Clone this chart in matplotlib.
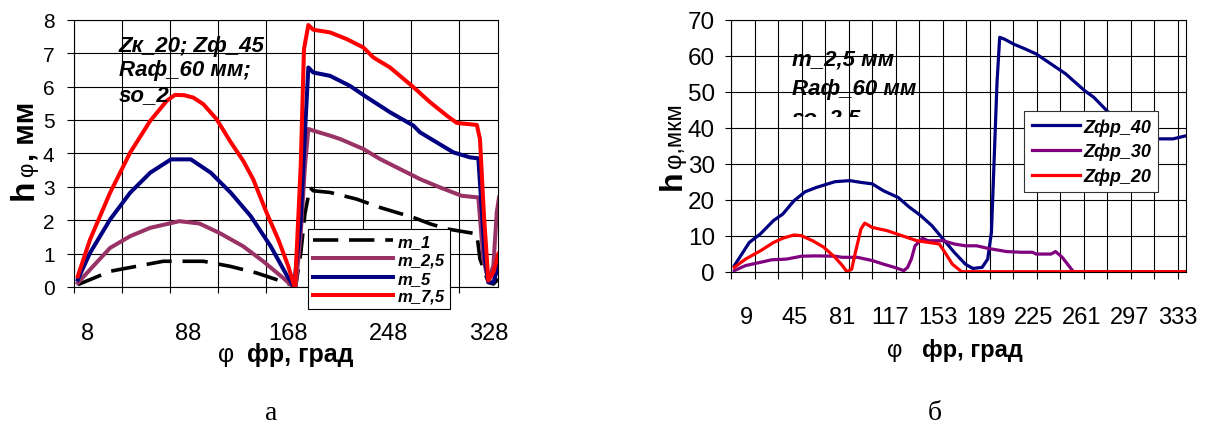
import numpy as np
import matplotlib
matplotlib.use("Agg")
import matplotlib.pyplot as plt
from matplotlib.transforms import Bbox, TransformedBbox

plt.rcParams['font.family'] = ['Liberation Sans', 'DejaVu Sans']

# ---- панель а: h(φ) для разных модулей ----
phi_m1 = [0, 9.8, 25.8, 46.9, 68.2, 100.3, 121.5, 142.8, 158.8, 170, 174, 178, 181.4, 185.4, 188,
          201.4, 222.7, 241.3, 254.6, 268, 281.3, 294.6, 310.5, 318.6, 321.1, 327.8, 331.8, 335.8]
h_m1 = [0.07, 0.22, 0.47, 0.62, 0.77, 0.77, 0.62, 0.42, 0.22, 0.07, 0.03, 1.0, 2.2, 2.98, 2.88,
        2.83, 2.63, 2.38, 2.23, 2.08, 1.89, 1.74, 1.64, 1.59, 0.84, 0.14, 0.09, 0.24]

phi_m25 = [0, 9.8, 25.8, 41.8, 57.8, 81.1, 97.1, 113, 132, 148, 164, 170, 174, 178, 181.4, 184.1,
           188, 201.4, 209.4, 228, 241.3, 254.6, 273.2, 289.2, 306.5, 319.8, 323.8, 327.8, 331.8,
           334.5, 336.3]
h_m25 = [0.12, 0.52, 1.17, 1.52, 1.77, 1.97, 1.9, 1.62, 1.22, 0.77, 0.27, 0.07, 0.02, 1.6, 3.63, 4.73,
         4.68, 4.53, 4.43, 4.13, 3.83, 3.58, 3.23, 2.98, 2.73, 2.68, 0.84, 0.19, 0.64, 2.23, 2.68]

phi_m5 = [0, 9.8, 25.8, 41.8, 57.8, 74.4, 90.3, 106.2, 122.2, 138.1, 154, 167.3, 172.6, 178, 181.4,
          184.1, 188, 201.4, 217.3, 230.7, 249.3, 268, 273.2, 286.5, 299.8, 313.1, 319.8, 325.1,
          327.8, 331.8, 335.8]
h_m5 = [0.22, 1.02, 2.02, 2.82, 3.42, 3.82, 3.82, 3.42, 2.82, 2.12, 1.22, 0.32, 0.0, 2.0, 4.63,
        6.57, 6.42, 6.32, 6.02, 5.68, 5.23, 4.83, 4.63, 4.33, 4.03, 3.88, 3.85, 0.84, 0.14, 0.14, 0.64]

phi_m75 = [0, 9.8, 25.8, 41.8, 57.8, 71, 77.6, 85, 92.2, 100.3, 110.9, 121.5, 132.2, 140.1, 150.8,
           160.1, 168.1, 173.4, 178, 180.6, 184.1, 188, 201.4, 214.7, 228, 236, 249.3, 268, 281.3,
           294.6, 302.6, 318.6, 321.1, 324.3, 327.8, 331.8, 335.8]
h_m75 = [0.32, 1.42, 2.82, 4.02, 4.97, 5.57, 5.75, 5.74, 5.67, 5.47, 5.02, 4.37, 3.77, 3.22, 2.22,
         1.42, 0.62, -0.05, 3.63, 7.12, 7.84, 7.7, 7.62, 7.42, 7.17, 6.87, 6.57, 5.98, 5.53,
         5.13, 4.91, 4.85, 4.43, 2.13, 0.19, 0.44, 0.99]

labels_a = ["m_1", "m_2,5", "m_5", "m_7,5"]
xticks_a = [8, 88, 168, 248, 328]

# ---- панель б: h(φ) для разных Zфр ----
phi_z40 = [0, 11.2, 19.6, 29.4, 36.4, 44.8, 53.2, 61.6, 75.6, 86.8, 95.2, 103.6, 112, 123.2, 131.6,
           140, 148.4, 156.8, 165.2, 173.6, 179.2, 186.2, 190.4, 193.2, 196, 197.4, 199.4, 203, 210,
           218.4, 226.8, 238, 249.2, 253.4, 263.2, 270.2, 280, 290, 300, 310, 319.8, 329.7, 339.9]
h_z40 = [1.67, 8.1, 10.5, 14.2, 16.0, 19.7, 22.2, 23.4, 25.0, 25.3, 24.8, 24.4, 22.5, 20.6, 17.9,
         15.6, 12.8, 9.1, 5.4, 2.1, 0.9, 1.2, 3.5, 10.9, 38.7, 52.6, 65.1, 64.6, 63.2,
         61.9, 60.5, 57.7, 54.9, 53.5, 50.3, 48.4, 44.7, 41.5, 38.8, 37.2, 36.9, 36.9, 37.8]

phi_z30 = [0, 8.4, 19.6, 28, 39.2, 50.4, 61.6, 75.6, 81.2, 92.4, 103.6, 112, 120.4, 127.4, 130.2, 133,
           135.8, 141.4, 145.6, 156.8, 165.2, 173.6, 182, 190.4, 204.4, 215.6, 224, 226.8, 238, 241.4,
           246.4, 254.8, 339]
h_z30 = [0.3, 1.7, 2.6, 3.3, 3.5, 4.3, 4.4, 4.3, 4.0, 4.0, 3.1, 2.1, 1.2, 0.3, 1.2, 3.5,
         7.2, 9.3, 8.6, 8.6, 7.7, 7.2, 7.2, 6.5, 5.6, 5.4, 5.4, 4.9, 4.9, 5.6,
         4.0, 0.0, 0.0]

phi_z20 = [0, 8.4, 19.6, 29.4, 36.4, 44.8, 50.4, 58.8, 67.2, 75.6, 81.2, 84.6, 88.2, 91, 95.2, 98,
           103.6, 114.8, 126, 137.2, 148.4, 154, 158.2, 163.8, 170.8, 339]
h_z20 = [1.2, 3.5, 5.8, 8.1, 9.3, 10.2, 10.0, 8.6, 6.8, 4.0, 1.7, 0.0, 0.7, 5.4, 11.9, 13.5,
         12.3, 11.4, 10.0, 8.6, 8.0, 7.7, 5.4, 2.1, 0.0, 0.0]

labels_b = ["Zфр_40", "Zфр_30", "Zфр_20"]
xticks_b = [9, 45, 81, 117, 153, 189, 225, 261, 297, 333]

W, H = 1207, 427
fig = plt.figure(figsize=(W / 100, H / 100), dpi=100)

def px_axes(x0, x1, ytop, ybot):
    return fig.add_axes([x0 / W, 1 - ybot / H, (x1 - x0) / W, (ybot - ytop) / H])

def chain(x, y, parts, vertical=False):
    # кусочки подписи подряд, координаты в пикселях от левого верхнего угла
    r = fig.canvas.get_renderer()
    for s, weight, size, gap in parts:
        t = fig.text(x / W, 1 - y / H, s, fontsize=size, fontweight=weight,
                     rotation=90 if vertical else 0, rotation_mode='anchor',
                     ha='left', va='baseline')
        bb = t.get_window_extent(r)
        if vertical:
            y -= bb.height + gap
        else:
            x += bb.width + gap

# ================= а =================
ax1 = px_axes(74, 498, 20.7, 288)
ax1.plot(phi_m1, h_m1, color='black', lw=2.6, dashes=(7, 3), label=labels_a[0])
ax1.plot(phi_m25, h_m25, color='#993366', lw=2.9, label=labels_a[1])
ax1.plot(phi_m5, h_m5, color='#000080', lw=2.9, label=labels_a[2])
ax1.plot(phi_m75, h_m75, color='#ff0000', lw=2.9, label=labels_a[3])

ax1.set_xlim(-3, 335.5)
ax1.set_ylim(0, 8)
ax1.set_yticks(range(0, 9))
ax1.set_xticks(xticks_a)
ax1.set_xticks(-3 + 38.4 * np.arange(9), minor=True)
ax1.tick_params(axis='x', which='major', length=0, pad=25, labelsize=17)
ax1.tick_params(axis='x', which='minor', length=4, width=0.8, direction='out')
ax1.tick_params(axis='y', length=5, width=0.8, pad=9, labelsize=15)
ax1.grid(True, which='minor', axis='x', color='black', lw=0.8)
ax1.grid(True, which='major', axis='y', color='black', lw=0.8)
ax1.set_axisbelow(True)
for sp in ax1.spines.values():
    sp.set_linewidth(0.8)

ax1.text(32.9, 7.55, "Zк_20; Zф_45\nRaф_60 мм;\nso_2", fontsize=16, fontweight='bold',
         fontstyle='italic', ha='left', va='top', linespacing=1.22)

leg1 = ax1.legend(loc='upper left', bbox_to_anchor=(0.552, 0.217), borderaxespad=0,
                  prop={'size': 12, 'weight': 'bold', 'style': 'italic'}, handlelength=4.8,
                  handletextpad=0.3, labelspacing=0.2, borderpad=0.3, fancybox=False,
                  framealpha=1, edgecolor='black')
leg1.get_frame().set_linewidth(0.8)

# ================= б =================
ax2 = px_axes(731, 1186, 20.7, 272.7)
ax2.plot(phi_z40, h_z40, color='#000080', lw=2.3, label=labels_b[0])
ax2.plot(phi_z30, h_z30, color='#800080', lw=2.3, label=labels_b[1])
ax2.plot(phi_z20, h_z20, color='#ff0000', lw=2.3, label=labels_b[2])

ax2.set_xlim(-2.5, 339.4)
ax2.set_ylim(0, 70)
ax2.set_yticks(range(0, 71, 10))
ax2.set_xticks(xticks_b)
ax2.set_xticks(-2.5 + 17.66 * np.arange(20), minor=True)
ax2.tick_params(axis='x', which='major', length=0, pad=25, labelsize=17)
ax2.tick_params(axis='x', which='minor', length=5, width=0.8, direction='out')
ax2.tick_params(axis='y', length=4.5, width=0.8, pad=7, labelsize=17.5)
ax2.grid(True, which='minor', axis='x', color='black', lw=0.8)
ax2.grid(True, which='major', axis='y', color='black', lw=0.8)
ax2.set_axisbelow(True)
for sp in ax2.spines.values():
    sp.set_linewidth(0.8)

ax2.text(43.5, 59.1, "m_2,5 мм", fontsize=16, fontweight='bold', fontstyle='italic',
         ha='left', va='center')
ax2.text(43.5, 51.0, "Raф_60 мм", fontsize=16, fontweight='bold', fontstyle='italic',
         ha='left', va='center')
# третья строка в оригинале срезана рамкой надписи
t3 = ax2.text(43.5, 42.6, "so_2,5", fontsize=16, fontweight='bold', fontstyle='italic',
              ha='left', va='center', clip_on=True)
t3.set_clip_box(TransformedBbox(Bbox([[-2.5, 43.1], [339.4, 70]]), ax2.transData))

leg2 = ax2.legend(loc='upper left', bbox_to_anchor=(0.645, 0.6377), borderaxespad=0,
                  prop={'size': 13, 'weight': 'bold', 'style': 'italic'}, handlelength=2.7,
                  handletextpad=0.15, labelspacing=0.4, borderpad=0.4, fancybox=False,
                  framealpha=1, edgecolor='#333333')
leg2.get_frame().set_linewidth(0.8)

# ---- подписи осей ----
chain(33, 200, [("h", 'bold', 24, 2), ("φ", 'normal', 16, 2), (", мм", 'bold', 21, 0)], vertical=True)
chain(681, 190, [("h", 'bold', 23, 2), ("φ,мкм", 'normal', 17, 0)], vertical=True)
chain(218, 362, [("φ", 'normal', 18, 13), ("фр, град", 'bold', 18, 0)])
chain(887, 357, [("φ", 'normal', 17, 20), ("фр, град", 'bold', 17, 0)])

fig.text(271 / W, 0.5 / H, "а", fontsize=20, family='Liberation Serif', ha='center', va='bottom')
fig.text(935 / W, 0.5 / H, "б", fontsize=20, family='Liberation Serif', ha='center', va='bottom')

fig.savefig("out.png", dpi=100)
